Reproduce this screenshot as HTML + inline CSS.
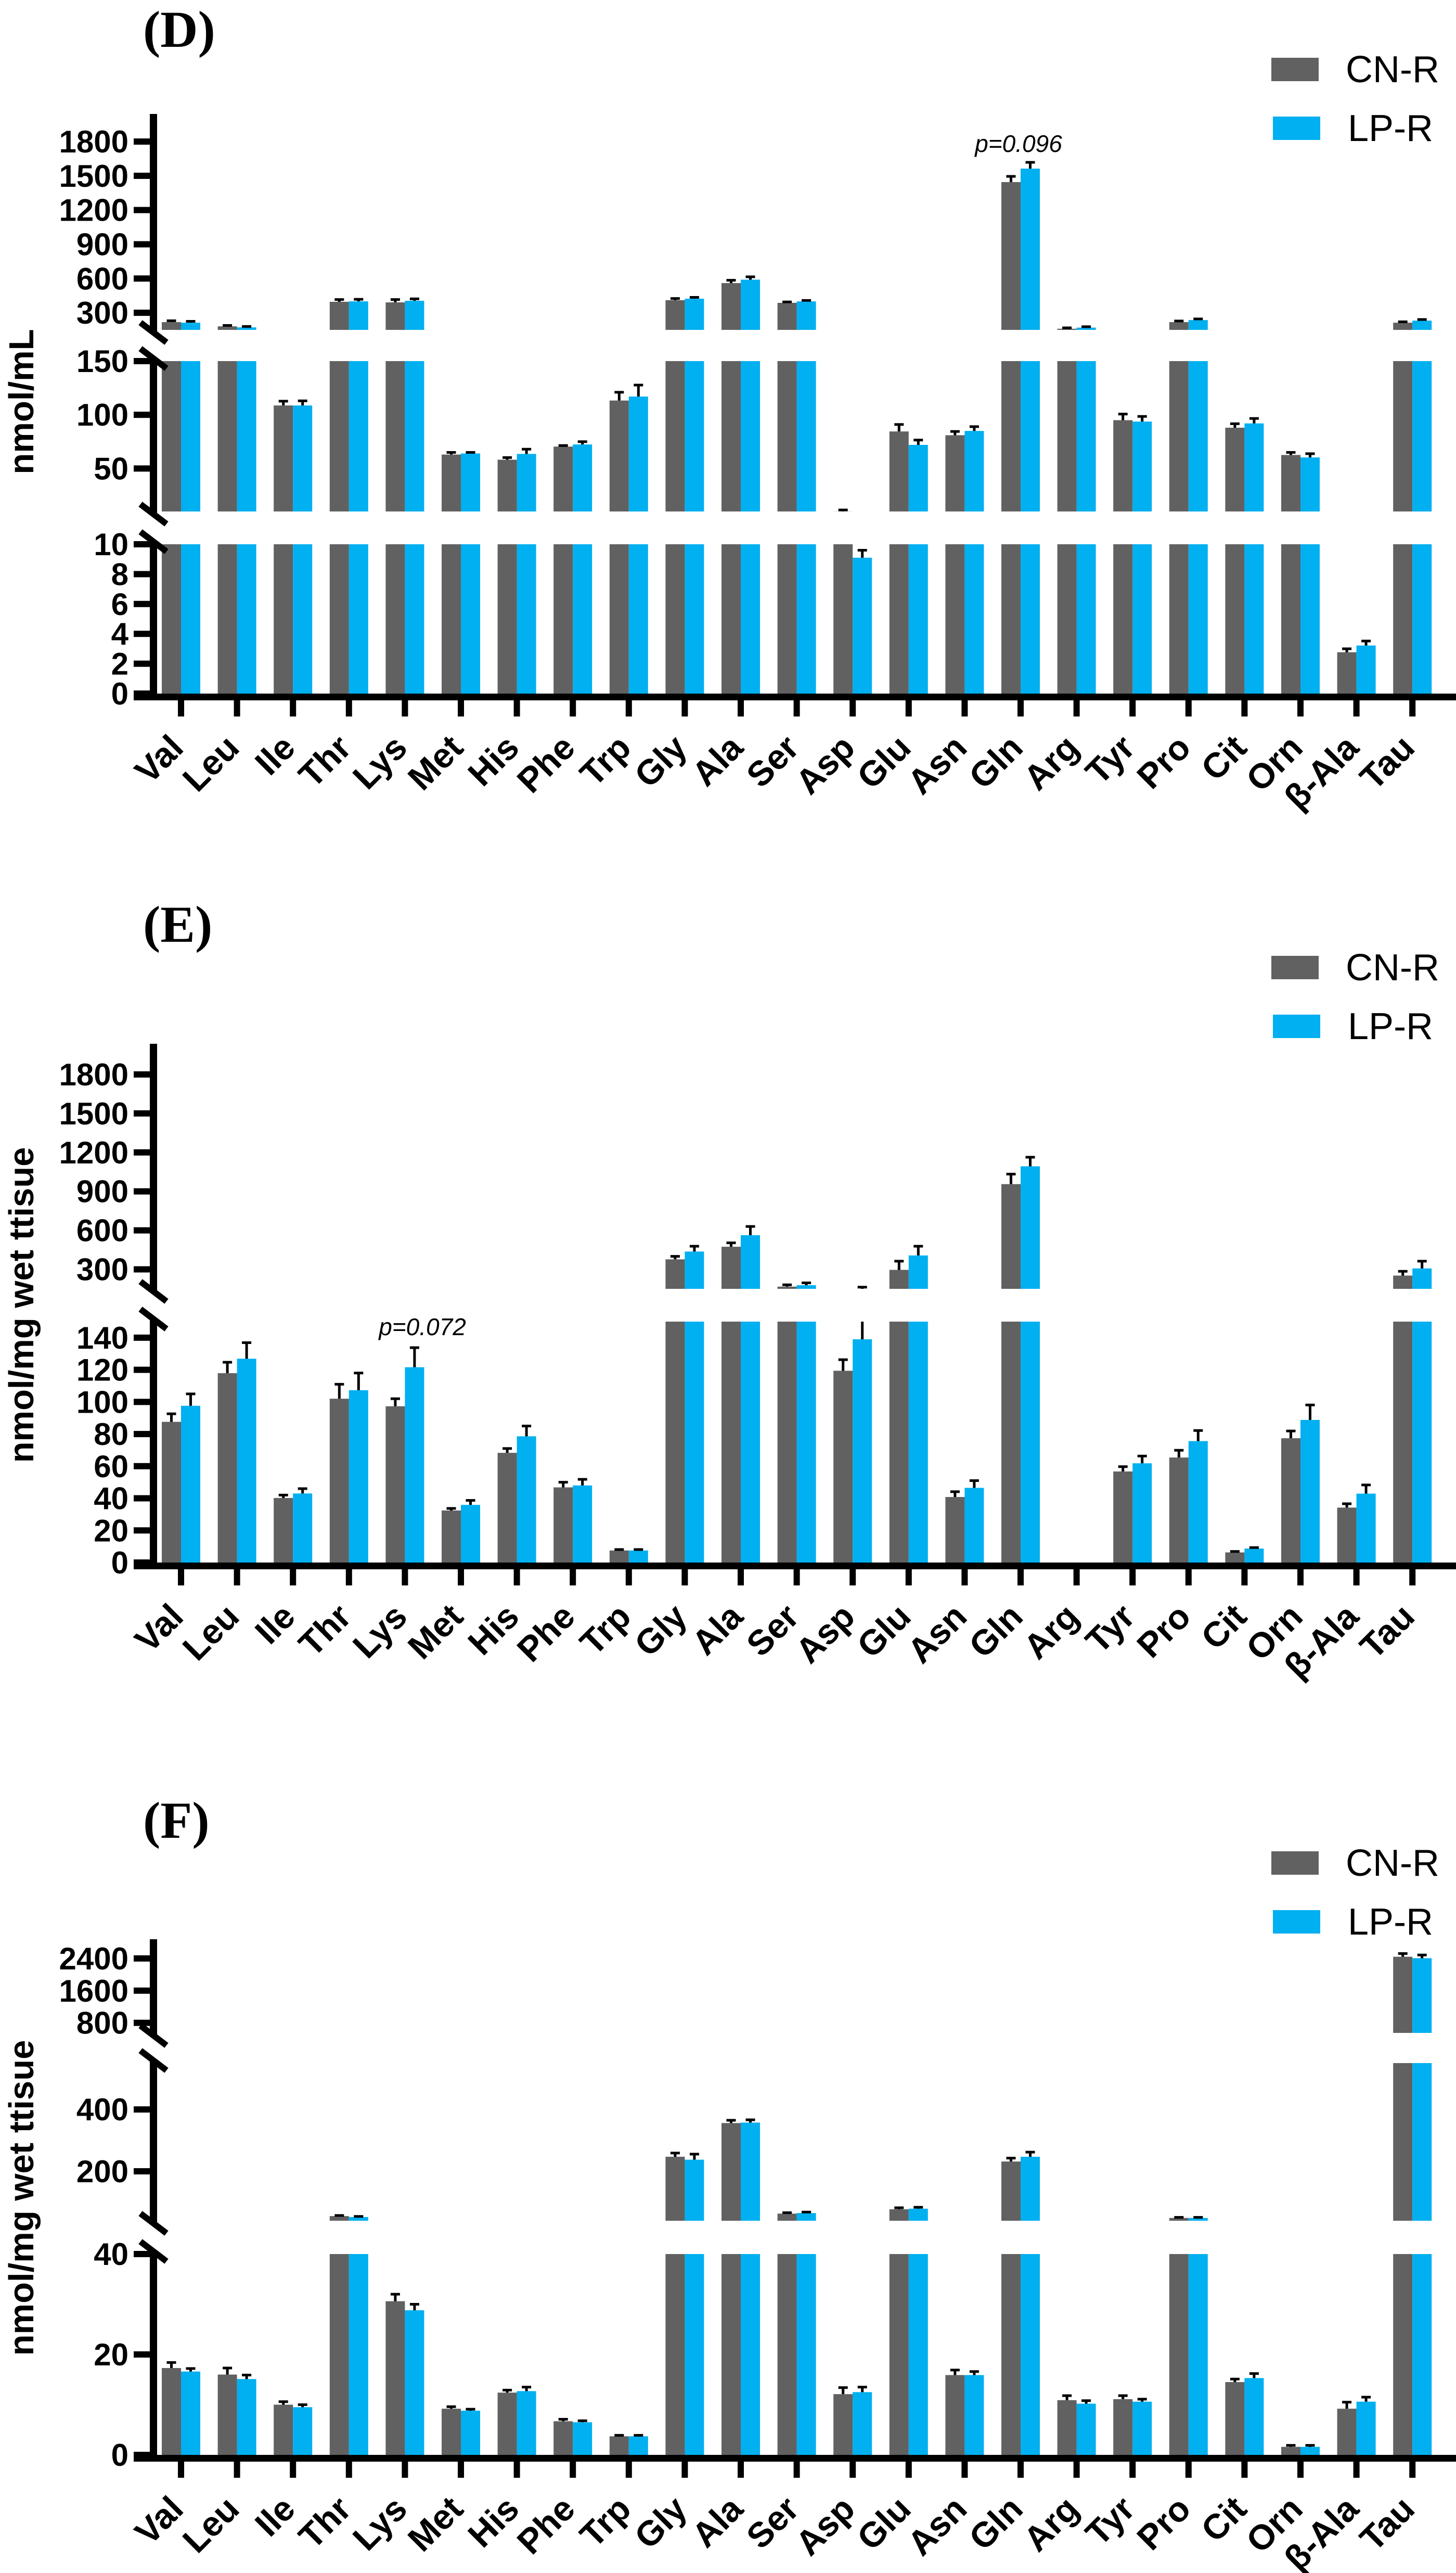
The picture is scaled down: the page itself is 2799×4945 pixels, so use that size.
<!DOCTYPE html>
<html><head><meta charset="utf-8">
<style>
html,body{margin:0;padding:0;background:#fff;}
svg{display:block;}
text{font-family:"Liberation Sans",Arial,sans-serif;}
text.serif{font-family:"Liberation Serif","Times New Roman",serif;}
</style></head>
<body>
<svg id="chart" xmlns="http://www.w3.org/2000/svg" width="2799" height="4945" viewBox="0 0 2799 4945"></svg>
<script>
const categories = ["Val","Leu","Ile","Thr","Lys","Met","His","Phe","Trp","Gly","Ala","Ser","Asp","Glu","Asn","Gln","Arg","Tyr","Pro","Cit","Orn","β-Ala","Tau"];

const dCN    = [218,181,108.7,396,391,63,58.2,70.4,113.3,410,560,387,10.1,84.5,81,1445,160,95,218,88,62.6,2.77,213];
const dCNerr = [12,8,4,20,25,2,2,1,7.7,15,25,8,1.3,6.5,3.5,50,8,5.7,10,3.7,2.4,0.23,8];
const dLP    = [213,172,108.7,400,405,64,63.6,72.4,117,423,590,400,9.1,72,85,1563,170,93.7,236,92,60.3,3.22,231];
const dLPerr = [12,8,4.3,18,17,1,4.4,2.6,10.7,12,25,8,0.5,4.5,4,55,8,4.8,10,4.6,3.5,0.3,10];

const eCN    = [87.6,117.9,40.2,102,97.3,32.4,68.3,46.8,7.5,377,474,167,119.4,296,40.8,956,0,56.7,65.4,6.3,77.4,34.2,252];
const eCNerr = [5,6.8,1.8,9,4.7,1.3,2.7,3.2,0.6,23,30,14,6.9,67,3.3,77,0,3,4.5,0.6,4.5,2.4,33];
const eLP    = [97.6,126.9,43,107.3,121.6,35.9,78.6,48,7.5,437,563,178,139,407,46.5,1093,0,61.8,75.6,8.7,88.8,42.9,307];
const eLPerr = [7.4,10,3,10.7,12.2,2.8,6.4,3.8,0.6,41,67,18,24,71,4.5,70,0,4.5,6.6,0.6,9.3,5.4,56];

const fCN    = [17.3,16,10,55,30.6,9.2,12.4,6.7,3.7,247,356,63,12.1,77,15.9,231.6,10.9,11.1,49,14.5,1.6,9.2,2442];
const fCNerr = [1.1,1.3,0.6,2,1.4,0.4,0.5,0.4,0.2,12,9,3,1.3,5,1,11,0.9,0.7,2,0.6,0.3,1.3,80];
const fLP    = [16.6,15.1,9.5,52,28.8,8.8,12.7,6.5,3.7,237.5,357.5,65,12.5,79,15.9,247,10.2,10.6,49,15.3,1.6,10.6,2406];
const fLPerr = [0.6,0.8,0.5,2,1.2,0.3,0.8,0.3,0.2,18,9,3,1,4.6,0.7,15,0.6,0.5,2,0.9,0.3,0.9,80];

const dTicksBottom = [0,2,4,6,8,10];
const dTicksMid = [50,100,150];
const dTicksTop = [300,600,900,1200,1500,1800];
const eTicksBottom = [0,20,40,60,80,100,120,140];
const eTicksTop = [300,600,900,1200,1500,1800];
const fTicksBottom = [0,20,40];
const fTicksMid = [200,400];
const fTicksTop = [800,1600,2400];

const NS = "http://www.w3.org/2000/svg";
const svg = document.getElementById("chart");
const AX = 295, X0 = 348, STEP = 107.6, BW = 37;
const GRAY = "#616161", BLUE = "#00B0F0";

function el(tag, attrs, parent) {
  const e = document.createElementNS(NS, tag);
  for (const k in attrs) e.setAttribute(k, attrs[k]);
  (parent || svg).appendChild(e);
  return e;
}
function xOf(i) { return X0 + i * STEP; }

function drawPanel(p) {
  const g = el("g", {});
  
  
  const segs = p.segs;
  function segY(s, v) { return s.yLo + (v - s.lo) * (s.yHi - s.yLo) / (s.hi - s.lo); }
  const lab = el("text", {x: 275, y: p.labelY, "class": "serif", "font-weight": "bold", "font-size": 100}, g);
  lab.textContent = p.label;
  
  
  const yt = el("text", {x: 0, y: 0, "font-weight": "bold", "font-size": 67, "text-anchor": "middle", transform: `translate(64,${p.titleY}) rotate(-90)`}, g);
  yt.textContent = p.title;
  
  
  const series = [[p.cn, p.cnErr, GRAY, -1, "cn-r"], [p.lp, p.lpErr, BLUE, 0, "lp-r"]];
  series.forEach(([vals, errs, col, off, sname]) => {
    vals.forEach((v, i) => {
      const x = xOf(i) + off * BW;
      const t = v + errs[i];
      const cx = x + BW / 2;
      segs.forEach(s => {
        if (v > s.lo) {
          const top = segY(s, Math.min(v, s.hi));
          const bot = s.yLo;
          const r = el("rect", {x: x, y: top, width: BW, height: Math.max(0, bot - top), fill: col}, g);
          
          
        }
        if (errs[i] > 0) {
          const a = Math.max(v, s.lo), b = Math.min(t, s.hi);
          if (b > a) {
            const ln = el("rect", {x: cx - 2.5, y: segY(s, b), width: 5, height: segY(s, a) - segY(s, b), fill: "#000"}, g);
            
            
          }
          if (t >= s.lo && t <= s.hi) {
            const cap = el("rect", {x: cx - 9, y: segY(s, t) - 2.5, width: 18, height: 5, fill: "#000"}, g);
            
            
          }
        }
      });
    });
  });
  segs.forEach((s, k) => {
    let yb = s.yLo, ytop = s.yHi;
    if (k === 0) yb = s.yLo + 6.5;
    else yb = s.yLo + 6;
    if (k === segs.length - 1) ytop = p.axisTop; else ytop = s.yHi - 6;
    const ax = el("rect", {x: AX - 7, y: ytop, width: 14, height: yb - ytop, fill: "#000"}, g);
    
    
    s.ticks.forEach(tv => {
      const y = segY(s, tv);
      const tk = el("rect", {x: 257, y: y - 6, width: 38, height: 12, fill: "#000"}, g);
      
      
      const tl = el("text", {x: 247, y: y + 21, "text-anchor": "end", "font-weight": "bold", "font-size": 60}, g);
      tl.textContent = tv;
      
      
    });
    if (k > 0) {
      const m1 = el("line", {x1: AX - 25, y1: s.yLo - 14, x2: AX + 25, y2: s.yLo + 24, stroke: "#000", "stroke-width": 12}, g);
      
      
    }
    if (k < segs.length - 1) {
      const m2 = el("line", {x1: AX - 25, y1: s.yHi - 24, x2: AX + 25, y2: s.yHi + 14, stroke: "#000", "stroke-width": 12}, g);
      
      
    }
  });
  const y0 = segs[0].yLo;
  const xa = el("rect", {x: 257, y: y0, width: 2799 - 257, height: 13, fill: "#000"}, g);
  
  
  categories.forEach((c, i) => {
    const x = xOf(i);
    const tk = el("rect", {x: x - 6, y: y0 + 10, width: 12, height: 34, fill: "#000"}, g);
    
    
    const tl = el("text", {x: 0, y: 0, "text-anchor": "end", "font-weight": "bold", "font-size": 67, transform: `translate(${x + 8},${y0 + 108}) rotate(-45)`}, g);
    tl.textContent = c;
    
    
  });
  const leg = el("g", {}, g);
  
  
  [["CN-R", GRAY, 0], ["LP-R", BLUE, 1]].forEach(([name, col, k]) => {
    const y = p.legY + k * 113;
    const r = el("rect", {x: 2444 + k * 3, y: y, width: 91, height: 45, fill: col}, leg);
    
    
    const t = el("text", {x: 2587 + k * 4, y: y + 47, "font-size": 72}, leg);
    t.textContent = name;
    
    
  });
  if (p.note) {
    const n = el("text", {x: p.note.x, y: p.note.y, "font-style": "italic", "font-size": 46, "text-anchor": "middle"}, g);
    n.textContent = p.note.text;
    
    
  }
}

drawPanel({
  name: "panel-d", label: "(D)", labelY: 90, title: "nmol/mL", titleY: 772, legY: 111, axisTop: 219,
  cn: dCN, cnErr: dCNerr, lp: dLP, lpErr: dLPerr,
  segs: [
    {lo: 0, hi: 10, yLo: 1333, yHi: 1046, ticks: dTicksBottom},
    {lo: 10, hi: 150, yLo: 983, yHi: 694, ticks: dTicksMid},
    {lo: 150, hi: 2042, yLo: 634, yHi: 219, ticks: dTicksTop}
  ],
  note: {text: "p=0.096", x: 1958, y: 292}
});
drawPanel({
  name: "panel-e", label: "(E)", labelY: 1810, title: "nmol/mg wet ttisue", titleY: 2508, legY: 1837, axisTop: 2006,
  cn: eCN, cnErr: eCNerr, lp: eLP, lpErr: eLPerr,
  segs: [
    {lo: 0, hi: 150, yLo: 3003, yHi: 2540, ticks: eTicksBottom},
    {lo: 150, hi: 2036, yLo: 2477, yHi: 2006, ticks: eTicksTop}
  ],
  note: {text: "p=0.072", x: 812, y: 2566}
});
drawPanel({
  name: "panel-f", label: "(F)", labelY: 3532, title: "nmol/mg wet ttisue", titleY: 4224, legY: 3558, axisTop: 3727,
  cn: fCN, cnErr: fCNerr, lp: fLP, lpErr: fLPerr,
  segs: [
    {lo: 0, hi: 40, yLo: 4718, yHi: 4332, ticks: fTicksBottom},
    {lo: 40, hi: 550, yLo: 4268, yHi: 3965, ticks: fTicksMid},
    {lo: 550, hi: 2877, yLo: 3907, yHi: 3727, ticks: fTicksTop}
  ]
});
</script>
</body></html>
